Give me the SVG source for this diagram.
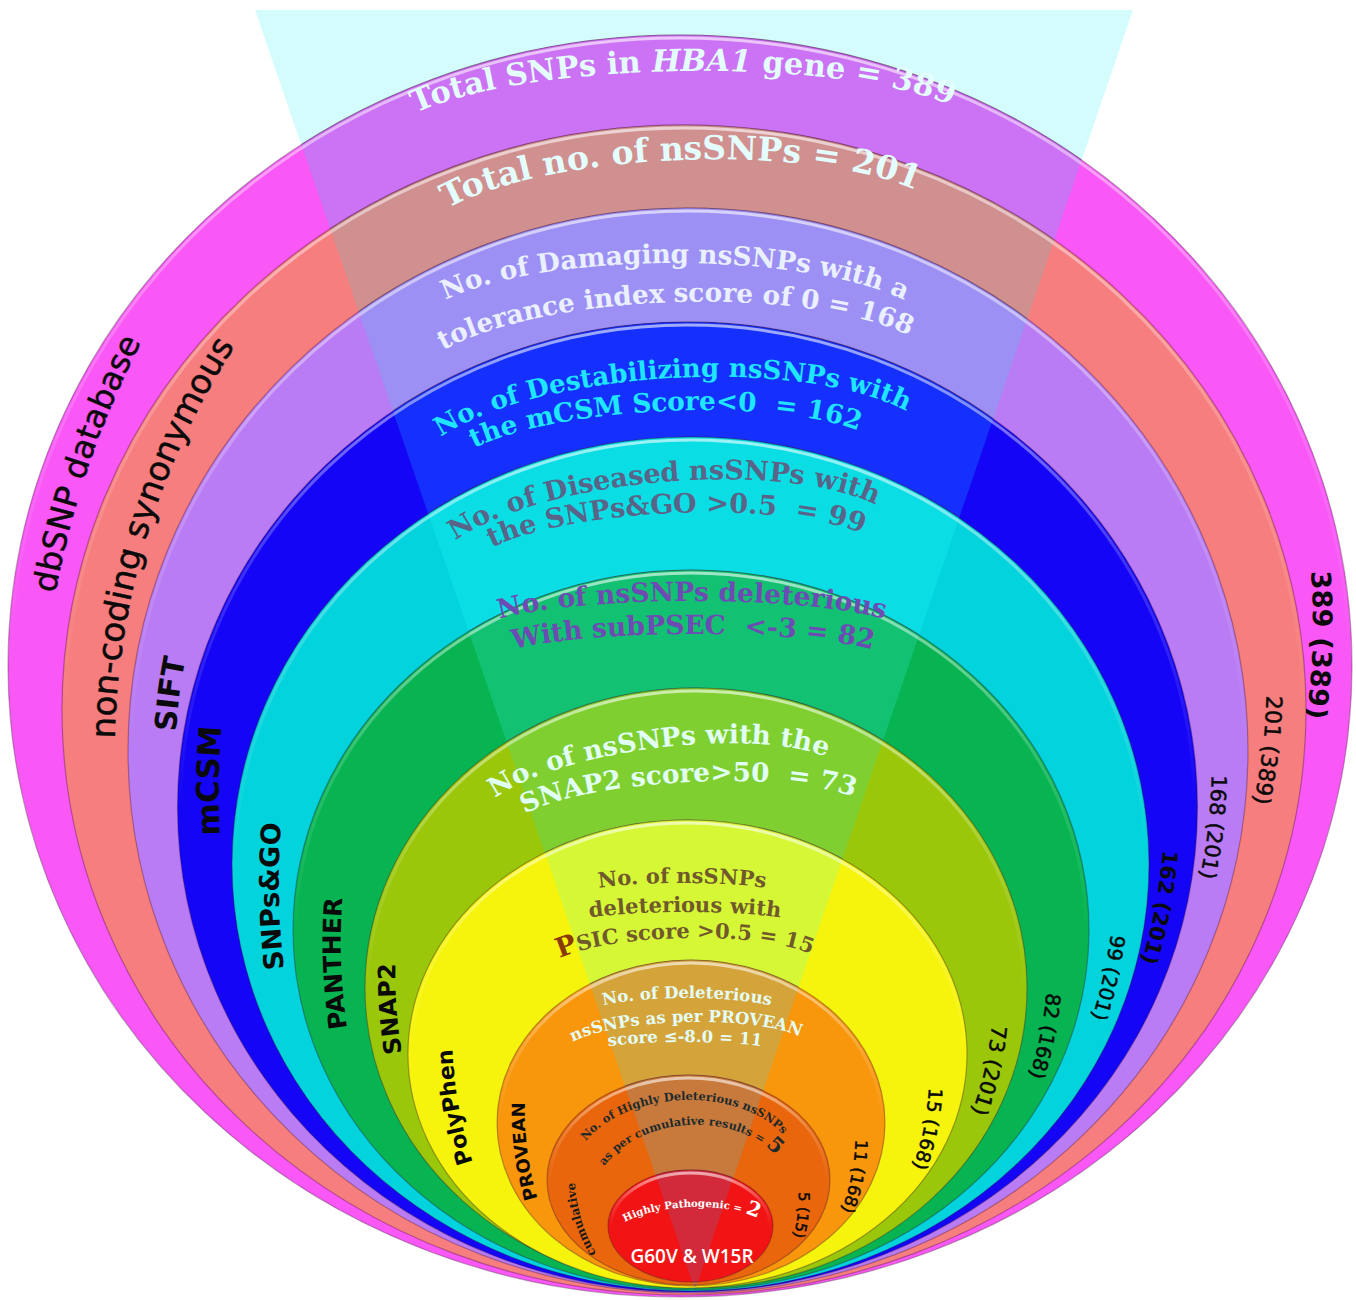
<svg xmlns="http://www.w3.org/2000/svg" width="1356" height="1300" viewBox="0 0 1356 1300">
<style>
.ring{stroke:#3a1030;stroke-opacity:.35;stroke-width:1.2}
.hl{fill:none;stroke:url(#gloss);stroke-width:3}
.tt{font-family:"DejaVu Serif","Liberation Serif",serif;font-weight:bold}
.lab{font-family:"DejaVu Sans","Liberation Sans",sans-serif;fill:#0a0a0a}
.th{stroke:#0a0a0a;stroke-width:.5}
.b{font-weight:bold}
</style>
<defs>
<clipPath id="wedge"><polygon points="255,10 1133,10 695,1290"/></clipPath>
<linearGradient id="gloss" x1="0" y1="0" x2="0" y2="1">
<stop offset="0" stop-color="#ffffff" stop-opacity=".6"/>
<stop offset=".25" stop-color="#ffffff" stop-opacity=".18"/>
<stop offset=".5" stop-color="#ffffff" stop-opacity="0"/>
</linearGradient>
<path id="pT1" d="M 381 142 A 302 71 0 0 1 985 142"/>
<path id="pT2" d="M 410 238 A 270 78 0 0 1 950 238"/>
<path id="pT3a" d="M 414 334 A 261 71 0 0 1 936 334"/>
<path id="pT3b" d="M 406 383.6 A 269 81.6 0 0 1 944 383.6"/>
<path id="pT4a" d="M 405 466.8 A 266 88.8 0 0 1 937 466.8"/>
<path id="pT4b" d="M 443 467.7 A 222 56.7 0 0 1 887 467.7"/>
<path id="pT5a" d="M 421 561 A 241 79 0 0 1 903 561"/>
<path id="pT5b" d="M 462 568 A 214 55 0 0 1 890 568"/>
<path id="pT6a" d="M 470 636.5 A 222 35.5 0 0 1 914 636.5"/>
<path id="pT6b" d="M 487.5 664 A 205.5 30 0 0 1 898.5 664"/>
<path id="pT7a" d="M 470 802.3 A 187 54.3 0 0 1 844 802.3"/>
<path id="pT7b" d="M 503.6 824.6 A 184.4 42.6 0 0 1 872.4 824.6"/>
<path id="pT8a" d="M 577 895.5 A 105 12.5 0 0 1 787 895.5"/>
<path id="pT8b" d="M 562.5 927 A 122.5 15 0 0 1 807.5 927"/>
<path id="pT8c" d="M 546 970 A 139 32 0 0 1 824 970"/>
<path id="pT9a" d="M 579.5 1018 A 107.5 20 0 0 1 794.5 1018"/>
<path id="pT9b" d="M 560.5 1052 A 125.5 30 0 0 1 811.5 1052"/>
<path id="pT9c" d="M 591 1052 A 94 10 0 0 1 779 1052"/>
<path id="pT10a" d="M 569.7 1174.5 A 113.3 74.5 0 0 1 796.3 1174.5"/>
<path id="pT10b" d="M 589.1 1195.9 A 98.9 70.9 0 0 1 786.9 1195.9"/>
<path id="pT11" d="M 608.5 1239.5 A 82.5 32.5 0 0 1 773.5 1239.5"/>
<path id="pL1" d="M 49 634 A 900 900 0 0 1 161 306"/>
<path id="pL2" d="M 115.2 780.7 A 750 750 0 0 1 258.8 311.3"/>
<path id="pL3" d="M 175.5 754.8 A 500 500 0 0 1 190.5 636.2"/>
<path id="pL4" d="M 221.7 862 A 800 800 0 0 1 224.3 700"/>
<path id="pL5" d="M 287.4 992 A 700 700 0 0 1 283.6 800"/>
<path id="pL6" d="M 350.7 1050 A 600 600 0 0 1 344.3 876"/>
<path id="pL7" d="M 406.4 1078 A 500 500 0 0 1 396.6 938"/>
<path id="pL8" d="M 481.5 1185.7 A 400 400 0 0 1 452.5 1024.3"/>
<path id="pL9" d="M 543 1215 A 300 300 0 0 1 526 1085"/>
<path id="pL10" d="M 602.9 1263.6 A 150 150 0 0 1 575.1 1170.4"/>
<path id="pR1" d="M 1308.6 545 A 700 700 0 0 1 1302.4 744"/>
<path id="pR2" d="M 1266.8 675 A 600 600 0 0 1 1249.2 823"/>
<path id="pR3" d="M 1211.7 754 A 550 550 0 0 1 1195.3 898"/>
<path id="pR4" d="M 1163.8 833.3 A 500 500 0 0 1 1136.2 977.7"/>
<path id="pR5" d="M 1113.3 910.4 A 450 450 0 0 1 1083.7 1040.6"/>
<path id="pR6" d="M 1048 970.3 A 400 400 0 0 1 1022 1097.7"/>
<path id="pR7" d="M 993.4 1003.4 A 350 350 0 0 1 963.6 1132.6"/>
<path id="pR8" d="M 929.4 1071.2 A 280 280 0 0 1 906.6 1182.8"/>
<path id="pR9" d="M 855.3 1122.2 A 220 220 0 0 1 834.7 1226.8"/>
<path id="pR10" d="M 797.2 1175 A 150 150 0 0 1 787.8 1253"/>
</defs>
<rect width="1356" height="1300" fill="#ffffff"/>
<polygon id="beam" points="255,10 1133,10 695,1290" fill="#d4fcfc"/>

<g id="ring-dbsnp">
<ellipse class="ring" cx="680" cy="666" rx="672" ry="631" fill="#f957f6"/>
<ellipse class="ring" cx="680" cy="666" rx="672" ry="631" fill="#cc72f4" clip-path="url(#wedge)"/>
<ellipse class="hl" cx="680" cy="666" rx="669" ry="628"/>
<text class="tt" font-size="30.5" fill="#e4fdfd" transform="rotate(-0.8 683 71)"><textPath href="#pT1" startOffset="50%" text-anchor="middle">Total SNPs in <tspan font-style="italic">HBA1</tspan> gene = 389</textPath></text>
<text class="lab th" font-size="32.5"><textPath href="#pL1" startOffset="50%" text-anchor="middle">dbSNP database</textPath></text>
<text class="lab b" font-size="27"><textPath href="#pR1" startOffset="50%" text-anchor="middle">389 (389)</textPath></text>
</g>

<g id="ring-noncoding">
<ellipse class="ring" cx="684" cy="710" rx="622" ry="585" fill="#f77e7e"/>
<ellipse class="ring" cx="684" cy="710" rx="622" ry="585" fill="#d09090" clip-path="url(#wedge)"/>
<ellipse class="hl" cx="684" cy="710" rx="619" ry="582"/>
<text class="tt" font-size="33" fill="#e4fdfd" transform="rotate(-2.2 680 160)"><textPath href="#pT2" startOffset="50%" text-anchor="middle">Total no. of nsSNPs = 201</textPath></text>
<text class="lab th" font-size="34"><textPath href="#pL2" startOffset="50%" text-anchor="middle">non-coding synonymous</textPath></text>
<text class="lab th" font-size="22"><textPath href="#pR2" startOffset="50%" text-anchor="middle">201 (389)</textPath></text>
</g>

<g id="ring-sift">
<ellipse class="ring" cx="688" cy="750.5" rx="560" ry="542.5" fill="#b97cf4"/>
<ellipse class="ring" cx="688" cy="750.5" rx="560" ry="542.5" fill="#9d90f4" clip-path="url(#wedge)"/>
<ellipse class="hl" cx="688" cy="750.5" rx="557" ry="539.5"/>
<text class="tt" font-size="26.3" fill="#eaf0ff"><textPath href="#pT3a" startOffset="50%" text-anchor="middle">No. of Damaging nsSNPs with a</textPath></text>
<text class="tt" font-size="26.3" fill="#eaf0ff" transform="rotate(-1.8 675 302)"><textPath href="#pT3b" startOffset="50%" text-anchor="middle">tolerance index score of 0 = 168</textPath></text>
<text class="lab b" font-size="30"><textPath href="#pL3" startOffset="50%" text-anchor="middle">SIFT</textPath></text>
<text class="lab th" font-size="21"><textPath href="#pR3" startOffset="50%" text-anchor="middle">168 (201)</textPath></text>
</g>

<g id="ring-mcsm">
<ellipse class="ring" cx="687.5" cy="807" rx="510" ry="485" fill="#1405f6"/>
<ellipse class="ring" cx="687.5" cy="807" rx="510" ry="485" fill="#1530fc" clip-path="url(#wedge)"/>
<ellipse class="hl" cx="687.5" cy="807" rx="507" ry="482"/>
<text class="tt" font-size="26" fill="#1fe6ff" transform="rotate(-3.2 671 378)"><textPath href="#pT4a" startOffset="50%" text-anchor="middle">No. of Destabilizing nsSNPs with</textPath></text>
<text class="tt" font-size="26.3" fill="#1fe6ff" xml:space="preserve" transform="rotate(-2.6 665 411)"><textPath href="#pT4b" startOffset="50%" text-anchor="middle">the mCSM Score&lt;0  = 162</textPath></text>
<text class="lab b" font-size="31"><textPath href="#pL4" startOffset="50%" text-anchor="middle">mCSM</textPath></text>
<text class="lab b" font-size="21"><textPath href="#pR4" startOffset="50%" text-anchor="middle">162 (201)</textPath></text>
</g>

<g id="ring-snpsgo">
<ellipse class="ring" cx="690.5" cy="864" rx="458.5" ry="427" fill="#02d3dc"/>
<ellipse class="ring" cx="690.5" cy="864" rx="458.5" ry="427" fill="#0adde4" clip-path="url(#wedge)"/>
<ellipse class="hl" cx="690.5" cy="864" rx="455.5" ry="424"/>
<text class="tt" font-size="27" fill="#5a6488" transform="rotate(-4.9 662 482)"><textPath href="#pT5a" startOffset="50%" text-anchor="middle">No. of Diseased nsSNPs with</textPath></text>
<text class="tt" font-size="27" fill="#5a6488" xml:space="preserve" transform="rotate(-2.2 676 513)"><textPath href="#pT5b" startOffset="50%" text-anchor="middle">the SNPs&amp;GO &gt;0.5  = 99</textPath></text>
<text class="lab b" font-size="27"><textPath href="#pL5" startOffset="50%" text-anchor="middle">SNPs&amp;GO</textPath></text>
<text class="lab th" font-size="20"><textPath href="#pR5" startOffset="50%" text-anchor="middle">99 (201)</textPath></text>
</g>

<g id="ring-panther">
<ellipse class="ring" cx="691" cy="930" rx="398" ry="360" fill="#07b451"/>
<ellipse class="ring" cx="691" cy="930" rx="398" ry="360" fill="#12c172" clip-path="url(#wedge)"/>
<ellipse class="hl" cx="691" cy="930" rx="395" ry="357"/>
<text class="tt" font-size="26.5" fill="#6e4ab4"><textPath href="#pT6a" startOffset="50%" text-anchor="middle">No. of nsSNPs deleterious</textPath></text>
<text class="tt" font-size="26.5" fill="#6e4ab4" xml:space="preserve"><textPath href="#pT6b" startOffset="50%" text-anchor="middle">With subPSEC  &lt;-3 = 82</textPath></text>
<text class="lab b" font-size="25"><textPath href="#pL6" startOffset="50%" text-anchor="middle">PANTHER</textPath></text>
<text class="lab th" font-size="20"><textPath href="#pR6" startOffset="50%" text-anchor="middle">82 (168)</textPath></text>
</g>

<g id="ring-snap2">
<ellipse class="ring" cx="696" cy="988" rx="331" ry="300" fill="#9bc70b"/>
<ellipse class="ring" cx="696" cy="988" rx="331" ry="300" fill="#80cf30" clip-path="url(#wedge)"/>
<ellipse class="hl" cx="696" cy="988" rx="328" ry="297"/>
<text class="tt" font-size="26.5" fill="#e2fff6" transform="rotate(-7.1 657 748)"><textPath href="#pT7a" startOffset="50%" text-anchor="middle">No. of nsSNPs with the</textPath></text>
<text class="tt" font-size="26.3" fill="#e2fff6" xml:space="preserve" transform="rotate(-2.9 688 782)"><textPath href="#pT7b" startOffset="50%" text-anchor="middle">SNAP2 score&gt;50  = 73</textPath></text>
<text class="lab b" font-size="24"><textPath href="#pL7" startOffset="50%" text-anchor="middle">SNAP2</textPath></text>
<text class="lab th" font-size="21"><textPath href="#pR7" startOffset="50%" text-anchor="middle">73 (201)</textPath></text>
</g>

<g id="ring-polyphen">
<ellipse class="ring" cx="687.5" cy="1054" rx="279.5" ry="234" fill="#f6f40c"/>
<ellipse class="ring" cx="687.5" cy="1054" rx="279.5" ry="234" fill="#d6f736" clip-path="url(#wedge)"/>
<ellipse class="hl" cx="687.5" cy="1054" rx="276.5" ry="231"/>
<text class="tt" font-size="21" fill="#70592a"><textPath href="#pT8a" startOffset="50%" text-anchor="middle">No. of nsSNPs</textPath></text>
<text class="tt" font-size="21" fill="#70592a"><textPath href="#pT8b" startOffset="50%" text-anchor="middle">deleterious with</textPath></text>
<text class="tt" font-size="21" fill="#70592a" transform="rotate(-1 685 938)"><textPath href="#pT8c" startOffset="50%" text-anchor="middle"><tspan font-size="27" fill="#8a3a06">P</tspan>SIC score &gt;0.5 = 15</textPath></text>
<text class="lab b" font-size="22"><textPath href="#pL8" startOffset="50%" text-anchor="middle">PolyPhen</textPath></text>
<text class="lab th" font-size="19"><textPath href="#pR8" startOffset="50%" text-anchor="middle">15 (168)</textPath></text>
</g>

<g id="ring-provean">
<ellipse class="ring" cx="691" cy="1123" rx="194" ry="163" fill="#f8960c"/>
<ellipse class="ring" cx="691" cy="1123" rx="194" ry="163" fill="#d4a43a" clip-path="url(#wedge)"/>
<ellipse class="hl" cx="691" cy="1123" rx="191" ry="160"/>
<text class="tt" font-size="16.5" fill="#e4fdf6"><textPath href="#pT9a" startOffset="50%" text-anchor="middle">No. of Deleterious</textPath></text>
<text class="tt" font-size="16.5" fill="#e4fdf6" transform="rotate(-1.3 686 1022)"><textPath href="#pT9b" startOffset="50%" text-anchor="middle">nsSNPs as per PROVEAN</textPath></text>
<text class="tt" font-size="16.5" fill="#e4fdf6"><textPath href="#pT9c" startOffset="50%" text-anchor="middle">score ≤-8.0 = 11</textPath></text>
<text class="lab b" font-size="18"><textPath href="#pL9" startOffset="50%" text-anchor="middle">PROVEAN</textPath></text>
<text class="lab th" font-size="17"><textPath href="#pR9" startOffset="50%" text-anchor="middle">11 (168)</textPath></text>
</g>

<g id="ring-cumulative">
<ellipse class="ring" cx="688.5" cy="1180" rx="141.5" ry="105" fill="#e9660c"/>
<ellipse class="ring" cx="688.5" cy="1180" rx="141.5" ry="105" fill="#c87a3c" clip-path="url(#wedge)"/>
<ellipse class="hl" cx="688.5" cy="1180" rx="138.5" ry="102"/>
<text class="tt" font-size="11.5" fill="#1c2a2c" transform="rotate(-2 683 1100)"><textPath href="#pT10a" startOffset="50%" text-anchor="middle">No. of Highly Deleterious nsSNPs</textPath></text>
<text class="tt" font-size="11.3" fill="#1c2a2c" transform="rotate(-3.5 688 1125)"><textPath href="#pT10b" startOffset="50%" text-anchor="middle">as per cumulative results = <tspan font-size="21">5</tspan></textPath></text>
<text class="tt" font-size="12" fill="#1a1a1a"><textPath href="#pL10" startOffset="50%" text-anchor="middle">cumulative</textPath></text>
<text class="lab th" font-size="15"><textPath href="#pR10" startOffset="50%" text-anchor="middle">5 (15)</textPath></text>
</g>

<g id="ring-pathogenic">
<ellipse class="ring" cx="690.5" cy="1226" rx="82.5" ry="56" fill="#f21414"/>
<ellipse class="ring" cx="690.5" cy="1226" rx="82.5" ry="56" fill="#d22a3a" clip-path="url(#wedge)"/>
<ellipse class="hl" cx="690.5" cy="1226" rx="79.5" ry="53"/>
<text class="tt" font-size="10.3" fill="#ffffff" transform="rotate(-1.7 691 1207)"><textPath href="#pT11" startOffset="50%" text-anchor="middle">Highly Pathogenic = <tspan font-size="20">2</tspan></textPath></text>
<text x="692" y="1263" text-anchor="middle" font-family="'Open Sans','DejaVu Sans',sans-serif" font-weight="600" font-size="19" fill="#ffffff">G60V &amp; W15R</text>
</g>

<g id="connectors"/>
</svg>
